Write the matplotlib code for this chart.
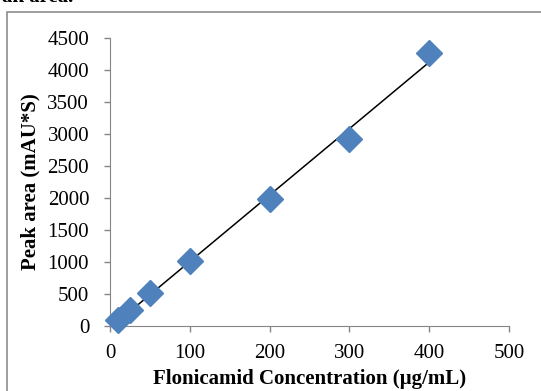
import numpy as np
import matplotlib
matplotlib.use('Agg')
from matplotlib import pyplot as plt
from matplotlib.patches import Rectangle

# calibration data
conc = [10, 25, 50, 100, 200, 300, 400]
area = [100, 250, 510, 1010, 1985, 2925, 4265]
xticks = [0, 100, 200, 300, 400, 500]
yticks = [0, 500, 1000, 1500, 2000, 2500, 3000, 3500, 4000, 4500]

plt.rcParams['font.family'] = ['Liberation Serif', 'DejaVu Serif']

fig = plt.figure(figsize=(5.41, 3.91), dpi=100)
ax = fig.add_axes([110/541, 1 - 326/391, 399/541, 288/391])

# linear trendline
slope, icpt = np.polyfit(conc, area, 1)
xf = np.array([min(conc), max(conc)])
ax.plot(xf, slope*xf + icpt, color='black', lw=1.1, zorder=2)
ax.plot(conc, area, 'D', color='#4F81BD', ms=13, mec='#4F81BD', zorder=3, clip_on=False)

ax.set_xlim(0, 500)
ax.set_ylim(0, 4500)
ax.set_xticks(xticks)
ax.set_yticks(yticks)
ax.tick_params(labelsize=15, color='#868686', length=4, width=1)
ax.tick_params(axis='x', pad=9)
ax.tick_params(axis='y', pad=11)
for s in ['top', 'right']:
    ax.spines[s].set_visible(False)
for s in ['left', 'bottom']:
    ax.spines[s].set_color('#868686')

ax.set_xlabel('Flonicamid Concentration (µg/mL)', fontsize=15, fontweight='bold', labelpad=4)
ax.set_ylabel('Peak area (mAU*S)', fontsize=15, fontweight='bold', labelpad=5)

# outer chart frame, cut off by the image edges
fig.patches.append(Rectangle((7/541, -0.05), 1.0, 1 - 12/391 + 0.05,
                             transform=fig.transFigure, fill=False,
                             edgecolor='#8c8c8c', lw=1.2))
fig.text(0.004, 1 - 2/391, 'ak area.', fontsize=15, fontweight='bold', va='baseline')

fig.savefig('out.png', dpi=100)
